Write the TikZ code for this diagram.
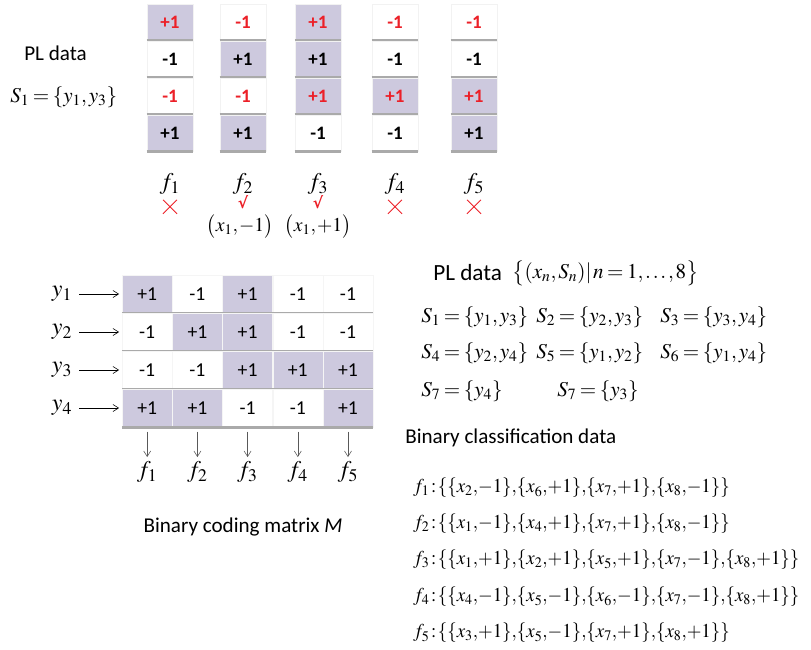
\documentclass[tikz,border=0pt]{standalone}
\usepackage[no-math]{fontspec}
\usepackage{mathptmx}
\usepackage{graphicx}
\setmainfont{Carlito}
\newfontfamily\checkfont{DejaVu Sans}
\usetikzlibrary{arrows.meta,positioning}

\definecolor{cellpurple}{RGB}{205,201,222}
\definecolor{bargray}{RGB}{170,170,170}
\definecolor{markred}{RGB}{236,32,40}

\newcommand{\txtsize}{\fontsize{15}{18}\selectfont}
\newcommand{\eqsize}{\fontsize{15}{18}\selectfont\thinmuskip=1.5mu\medmuskip=2mu\thickmuskip=3mu}
\newcommand{\pairsize}{\fontsize{14}{17}\selectfont\thinmuskip=1mu\medmuskip=1.5mu}
\newcommand{\rowsize}{\fontsize{14}{17}\selectfont\thinmuskip=0mu\medmuskip=2mu\thickmuskip=1.5mu}
\newcommand{\crow}[1]{\scalebox{0.96}[1]{$#1$}}

\begin{document}
\begin{tikzpicture}[x=0.025cm,y=-0.025cm,
    every node/.style={inner sep=0pt},
    topcell/.style={minimum width=1.15cm,minimum height=0.9cm,draw=gray!10,
      font=\fontsize{13.5}{16}\selectfont\bfseries},
    matcell/.style={minimum width=1.25cm,minimum height=0.95cm,draw=gray!8,
      font=\fontsize{14}{16}\selectfont},
    shadowbar/.style={bargray,line width=2.2pt},
    flabel/.style={font=\fontsize{17}{20}\selectfont},
    crossline/.style={markred,line width=0.6pt},
    checkmark/.style={text=markred,font=\checkfont\bfseries\fontsize{11}{13}\selectfont},
    eqn/.style={anchor=west,font=\eqsize},
    clsrow/.style={anchor=west,font=\rowsize},
    lbl/.style={anchor=west,font=\txtsize},
    arr/.style={-{Straight Barb[length=4pt,width=5pt]},thin}]

  \useasboundingbox (0,0) rectangle (811,650);

  % Top: the columns of M for S_1
  \node[lbl] (pl1) at (24,53) {PL data};
  \node[eqn] (s1left) at (10,97) {$S_1=\{y_1,y_3\}$};

  \foreach \c/\cx/\a/\b/\d/\e in {1/170/+1/-1/-1/+1, 2/243/-1/+1/-1/+1,
      3/318/+1/+1/+1/-1, 4/395/-1/-1/+1/-1, 5/474/-1/-1/+1/+1}{
    \foreach \r/\v in {1/\a,2/\b,3/\d,4/\e}{
      \ifnum\v>0 \def\cellfill{cellpurple}\else\def\cellfill{white}\fi
      \ifodd\r \def\numcol{markred}\else\def\numcol{black}\fi
      \node[topcell,fill=\cellfill,text=\numcol] (t-\c-\r) at (\cx,{37*\r-15}) {\v};
      \draw[shadowbar] (t-\c-\r.south west) -- (t-\c-\r.south east);
    }
    \node[flabel] (tf\c) at (\cx,184) {$f_\c$};
  }

  % crosses and ticks
  \foreach \c in {1,4,5}{
    \path (tf\c.south) ++(0,12) coordinate (mk\c);
    \draw[crossline] ([shift={(-7,-7)}]mk\c) -- ([shift={(7,7)}]mk\c);
    \draw[crossline] ([shift={(-7,7)}]mk\c) -- ([shift={(7,-7)}]mk\c);
  }
  \node[checkmark] (ck2) at (243,202) {√};
  \node[checkmark] (ck3) at (318,202) {√};
  \node[font=\pairsize] (pair2) at (240,227) {$\bigl(x_1,-1\bigr)$};
  \node[font=\pairsize] (pair3) at (318,227) {$\bigl(x_1,+1\bigr)$};

  % Bottom left: binary coding matrix
  \foreach \r/\a/\b/\d/\e/\g in {1/+1/-1/+1/-1/-1, 2/-1/+1/+1/-1/-1,
      3/-1/-1/+1/+1/+1, 4/+1/+1/-1/-1/+1}{
    \foreach \c/\v in {1/\a,2/\b,3/\d,4/\e,5/\g}{
      \ifnum\v>0 \def\cellfill{cellpurple}\else\def\cellfill{white}\fi
      \node[matcell,fill=\cellfill] (m-\r-\c) at ({97+50.2*\c},{256+38*\r}) {\v};
      \draw[shadowbar] (m-\r-\c.south west) -- (m-\r-\c.south east);
    }
    \node[flabel] (y\r) at (62,{256+38*\r}) {$y_\r$};
    \draw[arr,shorten <=5pt,shorten >=2pt] (y\r) -- (m-\r-1);
  }
  \foreach \c in {1,...,5}{
    \node[flabel,below=0.85cm of m-4-\c] (mf\c) {$f_\c$};
    \draw[arr,black!65,shorten <=3pt,shorten >=3pt] (m-4-\c) -- (mf\c);
  }
  \node[font=\txtsize] (mcap) at (243,527) {Binary coding matrix \textit{M}};

  % Right: PL data and binary classification data
  \node[anchor=west,font=\fontsize{16.5}{19}\selectfont] (pl2) at (433,273) {PL data};
  \node[eqn,right=7pt of pl2] (pldef) {$\bigl\{(x_n,S_n)|\,n=1,\ldots,8\bigr\}$};
  \node[eqn] (s1) at (421,317) {$S_1=\{y_1,y_3\}$};
  \node[eqn] (s2) at (536,317) {$S_2=\{y_2,y_3\}$};
  \node[eqn] (s3) at (660,317) {$S_3=\{y_3,y_4\}$};
  \node[eqn] (s4) at (421,353) {$S_4=\{y_2,y_4\}$};
  \node[eqn] (s5) at (536,353) {$S_5=\{y_1,y_2\}$};
  \node[eqn] (s6) at (660,353) {$S_6=\{y_1,y_4\}$};
  \node[eqn] (s7) at (421,391) {$S_7=\{y_4\}$};
  \node[eqn] (s8) at (557,391) {$S_7=\{y_3\}$};

  \node[lbl] (bcd) at (405,438) {Binary classification data};
  \node[clsrow] (c1) at (413,488) {\crow{f_1:\{\{x_2,-1\},\{x_6,+1\},\{x_7,+1\},\{x_8,-1\}\}}};
  \node[clsrow] (c2) at (413,524) {\crow{f_2:\{\{x_1,-1\},\{x_4,+1\},\{x_7,+1\},\{x_8,-1\}\}}};
  \node[clsrow] (c3) at (413,560) {\crow{f_3:\{\{x_1,+1\},\{x_2,+1\},\{x_5,+1\},\{x_7,-1\},\{x_8,+1\}\}}};
  \node[clsrow] (c4) at (413,597) {\crow{f_4:\{\{x_4,-1\},\{x_5,-1\},\{x_6,-1\},\{x_7,-1\},\{x_8,+1\}\}}};
  \node[clsrow] (c5) at (413,633) {\crow{f_5:\{\{x_3,+1\},\{x_5,-1\},\{x_7,+1\},\{x_8,+1\}\}}};
\end{tikzpicture}
\end{document}
